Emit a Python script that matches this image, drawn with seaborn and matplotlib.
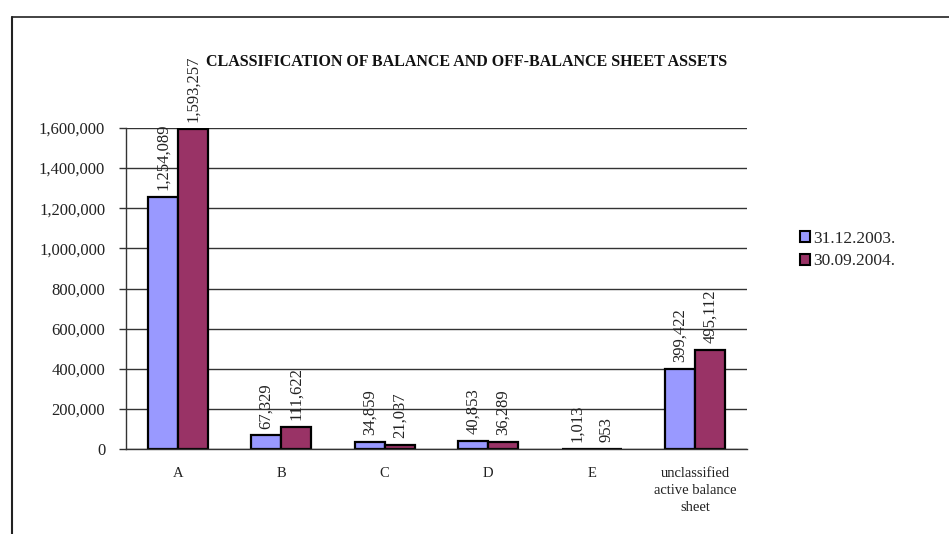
import matplotlib
matplotlib.use("Agg")
import matplotlib.pyplot as plt
from matplotlib.lines import Line2D
from matplotlib.patches import Patch
import seaborn as sns
import pandas as pd

categories = ["A", "B", "C", "D", "E", "unclassified\nactive balance\nsheet"]
series_names = ["31.12.2003.", "30.09.2004."]
values_2003 = [1254089, 67329, 34859, 40853, 1013, 399422]
values_2004 = [1593257, 111622, 21037, 36289, 953, 495112]
y_ticks = [0, 200000, 400000, 600000, 800000, 1000000, 1200000, 1400000, 1600000]
colors = ["#9999FF", "#993366"]

df = pd.DataFrame({
    "category": categories * 2,
    "series": [series_names[0]] * len(categories) + [series_names[1]] * len(categories),
    "value": values_2003 + values_2004,
})

sns.set_theme(style="white")
plt.rcParams["font.family"] = ["Liberation Serif", "DejaVu Serif"]

fig = plt.figure(figsize=(9.49, 5.34), dpi=100)
ax = fig.add_axes([126 / 949, 1 - 449 / 534, (747 - 126) / 949, (449 - 128) / 534])

sns.barplot(data=df, x="category", y="value", hue="series", order=categories,
            hue_order=series_names, palette=colors, width=0.58,
            edgecolor="black", linewidth=1.6, ax=ax, legend=False, saturation=1)

ax.set_ylim(0, 1600000)
ax.set_xlim(-0.5, len(categories) - 0.5)
ax.set_yticks(y_ticks)
ax.set_yticklabels([f"{v:,}" for v in y_ticks], fontsize=12, color="#222222")
ax.set_xlabel("")
ax.set_ylabel("")
ax.set_xticks(range(len(categories)))
ax.set_xticklabels(categories, fontsize=10.5, color="#222222", linespacing=1.4)
ax.set_xticks([i - 0.5 for i in range(len(categories) + 1)], minor=True)
ax.tick_params(axis="x", which="major", length=0, pad=13)
ax.tick_params(axis="x", which="minor", length=5, width=1, color="#333333", direction="out")
ax.tick_params(axis="y", length=5, width=1, color="#333333", direction="out", left=True, pad=10)

ax.grid(axis="y", color="#333333", linewidth=1)
ax.set_axisbelow(True)
for side in ["top", "right"]:
    ax.spines[side].set_visible(False)
for side in ["left", "bottom"]:
    ax.spines[side].set_color("#333333")
    ax.spines[side].set_linewidth(1)

for container in ax.containers:
    for bar in container:
        h = bar.get_height()
        ax.annotate(f"{int(round(h)):,}", (bar.get_x() + bar.get_width() / 2, h),
                    xytext=(0, 5), textcoords="offset points", rotation=90,
                    ha="center", va="bottom", fontsize=12, color="#222222",
                    annotation_clip=False)

fig.text(467 / 949, 1 - 62 / 534, "CLASSIFICATION OF BALANCE AND OFF-BALANCE SHEET ASSETS",
         ha="center", va="center", fontsize=11.5, fontweight="bold", color="#111111")

handles = [Patch(facecolor=c, edgecolor="black", linewidth=1.5) for c in colors]
fig.legend(handles, series_names, loc="center left",
           bbox_to_anchor=(793 / 949, 1 - 250 / 534), frameon=False,
           fontsize=12.5, handlelength=0.6, handleheight=0.6, handletextpad=0.15,
           labelspacing=0.4, borderaxespad=0)

fig.add_artist(Line2D([12 / 949, 12 / 949], [0, 1 - 17 / 534], color="#222222", linewidth=1.5,
                      transform=fig.transFigure))
fig.add_artist(Line2D([12 / 949, 1], [1 - 17 / 534, 1 - 17 / 534], color="#222222", linewidth=1.2,
                      transform=fig.transFigure))

fig.savefig("out.png", dpi=100, facecolor="white")
